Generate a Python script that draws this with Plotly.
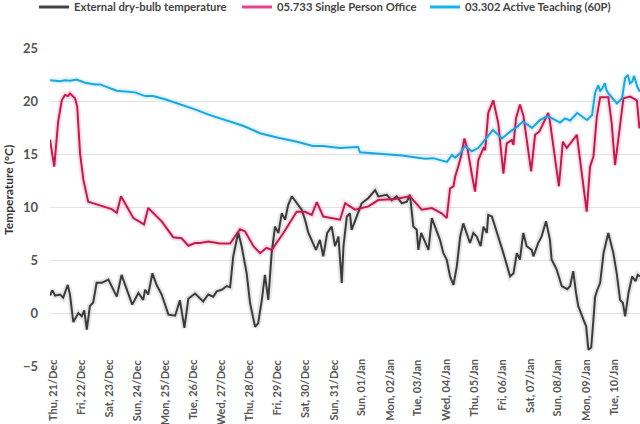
import plotly.graph_objects as go

# ---- tick labels (one per day, day 0 = Thu 21/Dec) ----
tick_days = list(range(21))
tick_labels = ["Thu, 21/Dec", "Fri, 22/Dec", "Sat, 23/Dec", "Sun, 24/Dec", "Mon, 25/Dec",
               "Tue, 26/Dec", "Wed, 27/Dec", "Thu, 28/Dec", "Fri, 29/Dec", "Sat, 30/Dec",
               "Sun, 31/Dec", "Sun, 01/Jan", "Mon, 02/Jan", "Tue, 03/Jan", "Wed, 04/Jan",
               "Thu, 05/Jan", "Fri, 06/Jan", "Sat, 07/Jan", "Sun, 08/Jan", "Mon, 09/Jan",
               "Tue, 10/Jan"]

# ---- 03.302 Active Teaching (60P) ----
teach_day = [-0.07, 0.29, 0.46, 0.64, 0.88, 1.18, 1.53, 1.71, 2.31, 2.66, 2.96, 3.32, 3.60,
             4.03, 4.49, 5.10, 5.63, 6.45, 6.81, 7.42, 8.02, 8.73, 9.30, 9.66, 10.27, 10.55,
             10.91, 10.98, 11.62, 12.48, 13.30, 13.58, 14.08, 14.26, 14.37, 14.55, 14.72,
             14.97, 15.19, 15.33, 15.51, 15.72, 16.04, 16.33, 16.58, 16.79, 17.11, 17.40,
             17.68, 18.11, 18.29, 18.47, 18.72, 19.07, 19.25, 19.36, 19.47, 19.54, 19.61,
             19.71, 19.76, 19.82, 20.14, 20.32, 20.43, 20.53, 20.60, 20.68, 20.75, 20.86, 20.96]
teach_temp = [22.0, 21.9, 22.0, 21.95, 22.05, 21.75, 21.6, 21.6, 21.0, 20.9, 20.85, 20.5, 20.5,
              20.2, 19.8, 19.25, 18.7, 18.0, 17.7, 17.0, 16.6, 16.2, 15.8, 15.8, 15.6, 15.65,
              15.7, 15.2, 15.1, 14.9, 14.6, 14.65, 14.3, 14.95, 14.7, 15.1, 15.8,
              15.3, 15.6, 16.05, 16.7, 17.3, 16.5, 17.15, 17.6, 18.1, 17.5, 18.25,
              18.6, 18.0, 18.4, 18.2, 18.9, 18.25, 18.7, 20.8, 21.5, 21.0, 21.2,
              21.7, 21.1, 20.8, 19.8, 20.3, 22.2, 22.5, 21.7, 21.85, 22.4, 21.4, 20.9]

# ---- 05.733 Single Person Office ----
office_day = [-0.07, 0.08, 0.22, 0.35, 0.46, 0.57, 0.64, 0.71, 0.82, 0.90, 1.00, 1.12, 1.29,
              1.65, 2.13, 2.31, 2.46, 2.90, 3.28, 3.43, 3.91, 4.32, 4.62, 4.86, 5.10, 5.28,
              5.57, 5.99, 6.35, 6.70, 6.88, 7.18, 7.42, 7.65, 7.83, 8.25, 8.72, 9.02, 9.26,
              9.44, 9.67, 10.27, 10.45, 10.80, 11.28, 11.63, 12.23, 12.76, 13.18, 13.54,
              13.89, 14.07, 14.19, 14.31, 14.37, 14.48, 14.58, 14.70, 14.82, 14.96, 15.08,
              15.20, 15.38, 15.44, 15.55, 15.73, 15.91, 16.09, 16.21, 16.39, 16.45, 16.54,
              16.68, 16.80, 17.08, 17.22, 17.37, 17.69, 17.75, 18.07, 18.21, 18.35, 18.71,
              19.06, 19.18, 19.30, 19.42, 19.54, 19.83, 19.95, 20.07, 20.19, 20.37, 20.61,
              20.85, 20.94]
office_temp = [16.4, 13.85, 18.1, 20.1, 20.6, 20.5, 20.75, 20.55, 20.3, 19.5, 15.1, 12.6, 10.55,
               10.25, 9.85, 9.5, 11.05, 9.0, 8.4, 9.95, 8.7, 7.2, 7.1, 6.4, 6.65, 6.65,
               6.8, 6.6, 6.6, 7.95, 7.75, 6.35, 5.7, 6.2, 6.0, 7.6, 9.6, 9.6, 9.3,
               10.5, 9.15, 8.85, 10.4, 9.8, 10.1, 10.7, 10.8, 11.05, 9.8, 9.95,
               9.45, 9.0, 11.8, 12.0, 12.9, 13.85, 14.8, 16.5, 15.4, 13.2, 11.5,
               14.5, 15.6, 15.4, 18.9, 20.1, 17.9, 13.2, 16.05, 16.35, 15.9, 18.4,
               19.7, 18.7, 13.4, 16.85, 17.15, 18.9, 18.1, 12.0, 16.2, 15.6, 16.85,
               9.6, 13.85, 14.8, 18.55, 20.4, 20.4, 17.95, 14.0, 16.5, 20.3, 20.45,
               20.1, 17.45]

# ---- External dry-bulb temperature ----
ext_day = [-0.07, 0.01, 0.11, 0.29, 0.40, 0.56, 0.64, 0.76, 0.94, 1.06, 1.15, 1.24, 1.35, 1.47,
           1.59, 1.77, 2.01, 2.13, 2.31, 2.48, 2.66, 2.86, 3.08, 3.25, 3.32, 3.43, 3.58, 3.73,
           3.91, 4.15, 4.39, 4.56, 4.72, 4.86, 5.10, 5.39, 5.57, 5.75, 5.87, 6.05, 6.23, 6.35,
           6.46, 6.64, 6.76, 6.94, 7.06, 7.24, 7.35, 7.48, 7.59, 7.71, 7.83, 7.95, 8.07, 8.19,
           8.31, 8.42, 8.55, 8.72, 8.90, 9.02, 9.14, 9.41, 9.55, 9.67, 9.81, 9.97, 10.09,
           10.21, 10.33, 10.39, 10.51, 10.62, 10.68, 10.86, 11.04, 11.28, 11.52, 11.63, 11.93,
           12.11, 12.29, 12.47, 12.65, 12.76, 12.88, 13.00, 13.06, 13.16, 13.30, 13.42, 13.54,
           13.71, 13.83, 13.95, 14.07, 14.19, 14.31, 14.43, 14.55, 14.66, 14.78, 14.90, 15.02,
           15.14, 15.28, 15.38, 15.50, 15.55, 15.68, 15.91, 16.09, 16.33, 16.45, 16.57, 16.68,
           16.80, 16.92, 17.10, 17.16, 17.33, 17.45, 17.61, 17.75, 17.81, 17.99, 18.17, 18.37,
           18.47, 18.58, 18.68, 18.76, 18.94, 19.04, 19.12, 19.22, 19.30, 19.36, 19.44, 19.54,
           19.66, 19.83, 20.01, 20.13, 20.25, 20.35, 20.43, 20.55, 20.68, 20.80, 20.88, 20.96]
ext_temp = [1.7, 2.2, 1.7, 1.8, 1.5, 2.7, 1.8, -0.8, 0.05, -0.25, 0.3, -1.5, 0.7, 1.05,
            2.9, 2.9, 3.2, 2.6, 1.6, 3.65, 2.4, 0.85, 1.95, 1.3, 2.25, 1.8, 3.8, 2.7,
            1.8, -0.1, -0.2, 1.25, -1.35, 1.4, 1.9, 1.15, 1.8, 1.6, 2.1, 2.25, 2.6, 2.5,
            5.4, 7.65, 6.35, 3.8, 1.0, -1.25, -0.9, 1.3, 3.65, 1.3, 5.7, 8.2, 7.6, 9.45,
            8.85, 10.25, 11.05, 10.4, 9.8, 8.85, 7.6, 6.0, 6.95, 5.4, 7.6, 8.2, 6.35,
            7.25, 2.9, 6.35, 9.15, 9.45, 7.9, 9.15, 10.4, 10.9, 11.65, 11.05, 11.2,
            10.7, 11.05, 10.4, 10.55, 11.2, 8.2, 7.9, 6.0, 7.6, 6.65, 6.0, 9.0,
            7.9, 6.95, 5.7, 5.1, 3.5, 2.7, 4.45, 7.25, 8.5, 7.6, 6.65, 7.6,
            7.25, 6.35, 8.2, 7.6, 9.3, 9.15, 7.25, 5.7, 3.5, 3.8, 5.7, 5.1,
            7.6, 6.35, 6.0, 5.4, 6.65, 7.25, 8.7, 6.95, 5.1, 4.15, 2.6, 2.3,
            2.6, 4.0, 1.95, 0.7, -0.55, -1.2, -3.4, -3.2, -0.55, 1.6, 2.25, 2.9,
            5.7, 7.6, 5.7, 3.8, 1.3, 1.0, -0.25, 1.95, 3.5, 3.05, 3.65, 3.5]

series = [
    ("External dry-bulb temperature", ext_day, ext_temp, "#3b3b3b", "rgba(59,59,59,0.13)", "#444444"),
    ("05.733 Single Person Office", office_day, office_temp, "#c8184b", "rgba(200,24,75,0.13)", "#ec3f8e"),
    ("03.302 Active Teaching (60P)", teach_day, teach_temp, "#18a6e0", "rgba(24,166,224,0.13)", "#14b4ec"),
]
legend_ids = ["legend", "legend2", "legend3"]
legend_left = [34, 237, 425]   # left edge of each legend entry, in pixels

FONT = "Lato"
fig = go.Figure()

# halos first
for name, xs, ys, col, halo, lcol in series:
    fig.add_trace(go.Scatter(x=xs, y=ys, mode="lines", showlegend=False, hoverinfo="skip",
                             line=dict(color=halo, width=6, shape="linear")))
for name, xs, ys, col, halo, lcol in series:
    fig.add_trace(go.Scatter(x=xs, y=ys, mode="lines", showlegend=False, name=name,
                             line=dict(color=col, width=2)))
# legend entries
for (name, xs, ys, col, halo, lcol), lid in zip(series, legend_ids):
    fig.add_trace(go.Scatter(x=[None], y=[None], mode="lines", name=name, legend=lid,
                             line=dict(color=lcol, width=3)))

annotations = []
for d, lab in zip(tick_days, tick_labels):
    annotations.append(dict(x=d, y=(367 - 357) / 319.0, xref="x", yref="paper",
                            text=lab, textangle=-90, showarrow=False,
                            xanchor="center", yanchor="top",
                            font=dict(family=FONT, size=11, color="#555555", weight="bold")))
annotations.append(dict(x=(8 - 50) / 590.0, y=(367 - 190) / 319.0, xref="paper", yref="paper",
                        text="Temperature (°C)", textangle=-90, showarrow=False,
                        xanchor="center", yanchor="middle",
                        font=dict(family=FONT, size=12, color="#333333", weight="bold")))

legend_common = dict(orientation="h", xref="container", yref="container",
                     xanchor="left", y=1 - 7 / 424, yanchor="middle",
                     font=dict(family=FONT, size=11.3, color="#444444", weight="bold"),
                     bgcolor="rgba(0,0,0,0)", itemwidth=30)
legends = {lid: dict(legend_common, x=lx / 640) for lid, lx in zip(legend_ids, legend_left)}

fig.update_layout(
    width=640, height=424,
    margin=dict(l=50, r=0, t=48, b=57),
    paper_bgcolor="white", plot_bgcolor="white",
    font=dict(family=FONT, color="#444444"),
    showlegend=True,
    xaxis=dict(range=[-0.071, 20.96], showgrid=False, zeroline=False, showline=False,
               showticklabels=False, ticks=""),
    yaxis=dict(range=[-5.03, 25.03], tickvals=[-5, 0, 5, 10, 15, 20, 25],
               showgrid=True, gridcolor="#e2e2e2", gridwidth=1, zeroline=False,
               showline=False, ticks="", ticklabelstandoff=11,
               tickfont=dict(family=FONT, size=13, color="#555555", weight="bold")),
    annotations=annotations,
    **legends,
)

fig.write_html("out.html", config={"displayModeBar": False},
               post_script="document.body.style.margin='0';document.body.style.overflow='hidden';")
